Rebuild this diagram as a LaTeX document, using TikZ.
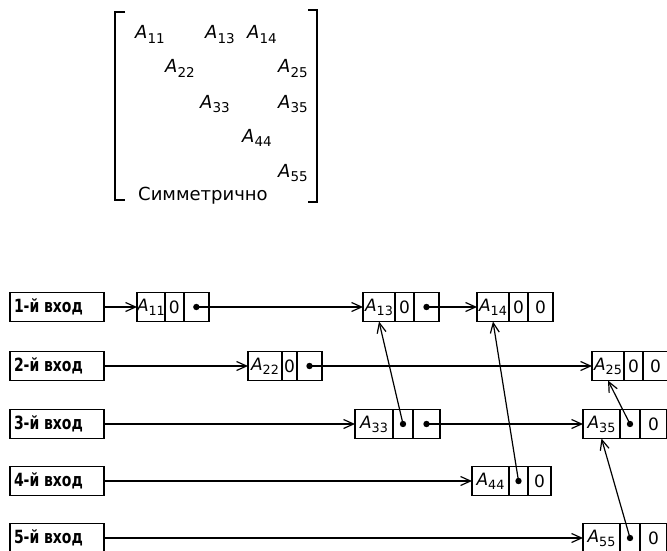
\documentclass[tikz,border=0pt]{standalone}
\usepackage{fontspec}
\setmainfont{DejaVu Sans}
\usetikzlibrary{positioning, arrows.meta}
\newcommand{\aij}[1]{\textit{A}\raisebox{-.45ex}{\scalebox{.75}{#1}}}
\newcommand{\tall}[1]{\scalebox{1}[1.3]{#1}}
\tikzset{
  entrynode/.style={
    draw, line width=1.4pt, minimum width=94pt, minimum height=29pt,
    text width=86pt, inner xsep=4pt, inner ysep=0pt, align=left,
    font=\bfseries\fontsize{14}{14}\selectfont
  },
  valcell/.style={
    draw, line width=1.3pt, minimum width=34pt, minimum height=29pt,
    inner sep=0pt, outer sep=0pt, font=\fontsize{17}{17}\selectfont
  },
  colcell/.style={valcell, minimum width=19pt},
  rowcell/.style={valcell, minimum width=25pt},
  linkarrow/.style={-{Straight Barb[length=10pt, width=9pt, line width=1.2pt]}, line width=1.2pt},
  melem/.style={anchor=base west, inner sep=0pt, font=\fontsize{18}{18}\selectfont}
}
\begin{document}
\begin{tikzpicture}[x=1pt, y=-1pt]
  \useasboundingbox (0,0) rectangle (667,551);

  \draw[line width=1.4pt] (125,12) -- (115,12) -- (115,200) -- (125,200);
  \draw[line width=1.4pt] (308,10) -- (317,10) -- (317,202) -- (308,202);
  \node[melem] (m11) at (135,39)  {\aij{11}};
  \node[melem] (m13) at (205,39)  {\aij{13}};
  \node[melem] (m14) at (247,39)  {\aij{14}};
  \node[melem] (m22) at (165,73)  {\aij{22}};
  \node[melem] (m25) at (278,73)  {\aij{25}};
  \node[melem] (m33) at (200,108) {\aij{33}};
  \node[melem] (m35) at (278,108) {\aij{35}};
  \node[melem] (m44) at (242,142) {\aij{44}};
  \node[melem] (m55) at (278,177) {\aij{55}};
  \node[melem] (sym) at (138,200) {Симметрично};

  \node[entrynode] (in1) at (57,307) {\tall{1-й вход}};
  \node[entrynode] (in2) at (57,366) {\tall{2-й вход}};
  \node[entrynode] (in3) at (57,424) {\tall{3-й вход}};
  \node[entrynode] (in4) at (57,481) {\tall{4-й вход}};
  \node[entrynode] (in5) at (57,538) {\tall{5-й вход}};

  \node[valcell, minimum width=25pt, anchor=west] (a11) at (137,307) {\aij{11}};
  \node[colcell, right=0pt of a11] (a11c) {0};
  \node[rowcell, right=0pt of a11c] (a11r) {};
  \node[valcell, minimum width=32pt, anchor=west] (a13) at (363,307) {\aij{13}};
  \node[colcell, right=0pt of a13] (a13c) {0};
  \node[rowcell, right=0pt of a13c] (a13r) {};
  \node[valcell, minimum width=32pt, anchor=west] (a14) at (477,307) {\aij{14}};
  \node[colcell, right=0pt of a14] (a14c) {0};
  \node[rowcell, right=0pt of a14c] (a14r) {0};

  \node[valcell, anchor=west] (a22) at (248,366) {\aij{22}};
  \node[colcell, minimum width=15pt, right=0pt of a22] (a22c) {0};
  \node[rowcell, right=0pt of a22c] (a22r) {};
  \node[valcell, minimum width=32pt, anchor=west] (a25) at (592,366) {\aij{25}};
  \node[colcell, right=0pt of a25] (a25c) {0};
  \node[rowcell, right=0pt of a25c] (a25r) {0};

  \node[valcell, minimum width=38pt, anchor=west] (a33) at (355,424) {\aij{33}};
  \node[colcell, minimum width=20pt, right=0pt of a33] (a33c) {};
  \node[rowcell, minimum width=27pt, right=0pt of a33c] (a33r) {};
  \node[valcell, minimum width=37pt, anchor=west] (a35) at (583,424) {\aij{35}};
  \node[colcell, minimum width=20pt, right=0pt of a35] (a35c) {};
  \node[rowcell, minimum width=27pt, right=0pt of a35c] (a35r) {0};

  \node[valcell, minimum width=37pt, anchor=west] (a44) at (472,481) {\aij{44}};
  \node[colcell, right=0pt of a44] (a44c) {};
  \node[rowcell, minimum width=23pt, right=0pt of a44c] (a44r) {0};

  \node[valcell, minimum width=37pt, anchor=west] (a55) at (583,538) {\aij{55}};
  \node[colcell, minimum width=20pt, right=0pt of a55] (a55c) {};
  \node[rowcell, minimum width=27pt, right=0pt of a55c] (a55r) {0};

  \draw[linkarrow] (in1) -- (a11);
  \draw[linkarrow] (a11r.center) -- (a13);
  \draw[linkarrow] (a13r.center) -- (a14);
  \draw[linkarrow] (in2) -- (a22);
  \draw[linkarrow] (a22r.center) -- (a25);
  \draw[linkarrow] (in3) -- (a33);
  \draw[linkarrow] (a33r.center) -- (a35);
  \draw[linkarrow] (in4) -- (a44);
  \draw[linkarrow] (in5) -- (a55);
  \draw[linkarrow] (a33c.center) -- (a13.south);
  \draw[linkarrow] (a44c.center) -- (a14.south);
  \draw[linkarrow] (a35c.center) -- (a25.south);
  \draw[linkarrow] (a55c.center) -- (a35.south);

  \foreach \c in {a11r, a13r, a22r, a33c, a33r, a35c, a44c, a55c}
    \fill (\c) circle (3.2pt);
\end{tikzpicture}
\end{document}
